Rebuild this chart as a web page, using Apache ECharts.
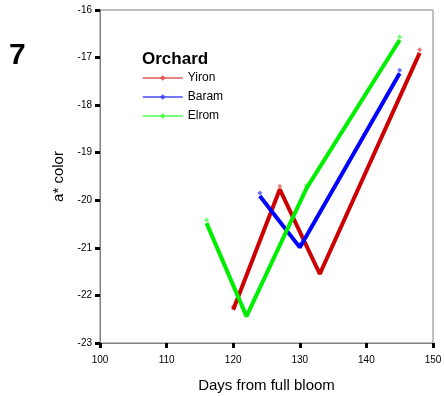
<!DOCTYPE html>
<html>
<head>
<meta charset="utf-8">
<script src="https://cdn.jsdelivr.net/npm/echarts@6/dist/echarts.min.js"></script>
<style>
  html, body { margin: 0; padding: 0; background: #fff; }
  #chart { width: 444px; height: 396px; }
</style>
</head>
<body>
<div id="chart"></div>
<script>
// a* colour of fruit by days from full bloom, per orchard
const yironDays = [120, 127, 133, 148];
const yironA = [-22.3, -19.77, -21.55, -16.9];
const baramDays = [124, 130, 145];
const baramA = [-19.91, -20.99, -17.33];
const elromDays = [116, 122, 131, 145];
const elromA = [-20.48, -22.44, -19.75, -16.63];

const xTicks = [100, 110, 120, 130, 140, 150];
const yTicks = [-23, -22, -21, -20, -19, -18, -17, -16];

const orchards = [
  { name: 'Yiron', days: yironDays, vals: yironA, line: '#cc0000', mark: '#e05a5a' },
  { name: 'Baram', days: baramDays, vals: baramA, line: '#0000ff', mark: '#4a4aff' },
  { name: 'Elrom', days: elromDays, vals: elromA, line: '#00ee00', mark: '#4cff4c' }
];

const font = 'Liberation Sans, Arial, Helvetica, sans-serif';
const chart = echarts.init(document.getElementById('chart'), null, { renderer: 'canvas' });

// thick connecting lines (legend entries take their look from these)
const lineSeries = orchards.map(o => ({
  name: o.name,
  type: 'line',
  data: o.days.map((d, i) => [d, o.vals[i]]),
  lineStyle: { color: o.line, width: 4 },
  itemStyle: { color: o.mark },
  symbol: 'diamond',
  symbolSize: 5,
  showSymbol: false,
  z: 3
}));

// small mean markers sitting just above each vertex, drawn beneath the lines
const markerSeries = orchards.map(o => ({
  name: o.name,
  type: 'scatter',
  data: o.days.map((d, i) => [d, o.vals[i]]),
  symbol: 'diamond',
  symbolSize: 5,
  symbolOffset: [0, -3],
  itemStyle: { color: o.mark },
  z: 2
}));

chart.setOption({
  animation: false,
  backgroundColor: '#ffffff',
  grid: {
    left: 100, top: 10, right: 11, bottom: 53,
    outerBoundsMode: 'none',
    show: true, borderColor: '#808080', borderWidth: 1
  },
  graphic: [
    { type: 'text', left: 9, top: 41,
      style: { text: '7', font: 'bold 30px ' + font, fill: '#000' } },
    { type: 'text', left: 142, top: 51,
      style: { text: 'Orchard', font: 'bold 17px ' + font, fill: '#000' } }
  ],
  legend: {
    orient: 'vertical',
    left: 137, top: 67,
    itemWidth: 40, itemHeight: 7, itemGap: 7,
    textStyle: { fontFamily: font, fontSize: 12, color: '#000' },
    data: orchards.map(o => ({
      name: o.name,
      lineStyle: { color: o.mark, width: 1.5 },
      itemStyle: { color: o.mark }
    }))
  },
  xAxis: {
    type: 'value', min: xTicks[0], max: xTicks[xTicks.length - 1], interval: 10,
    name: 'Days from full bloom', nameLocation: 'middle', nameGap: 35,
    nameTextStyle: { fontFamily: font, fontSize: 15, color: '#000' },
    axisLine: { lineStyle: { color: '#808080', width: 1 } },
    axisTick: { length: 5, lineStyle: { color: '#000', width: 3 } },
    axisLabel: { fontFamily: font, fontSize: 10, color: '#000', margin: 12 },
    splitLine: { show: false }
  },
  yAxis: {
    type: 'value', min: yTicks[0], max: yTicks[yTicks.length - 1], interval: 1,
    name: 'a* color', nameLocation: 'middle', nameGap: 30,
    nameTextStyle: { fontFamily: font, fontSize: 15, color: '#000' },
    axisLine: { show: true, lineStyle: { color: '#808080', width: 1 } },
    axisTick: { show: true, length: 5, lineStyle: { color: '#000', width: 3 } },
    axisLabel: { fontFamily: font, fontSize: 10, color: '#000', margin: 8 },
    splitLine: { show: false }
  },
  series: lineSeries.concat(markerSeries)
});
</script>
</body>
</html>
